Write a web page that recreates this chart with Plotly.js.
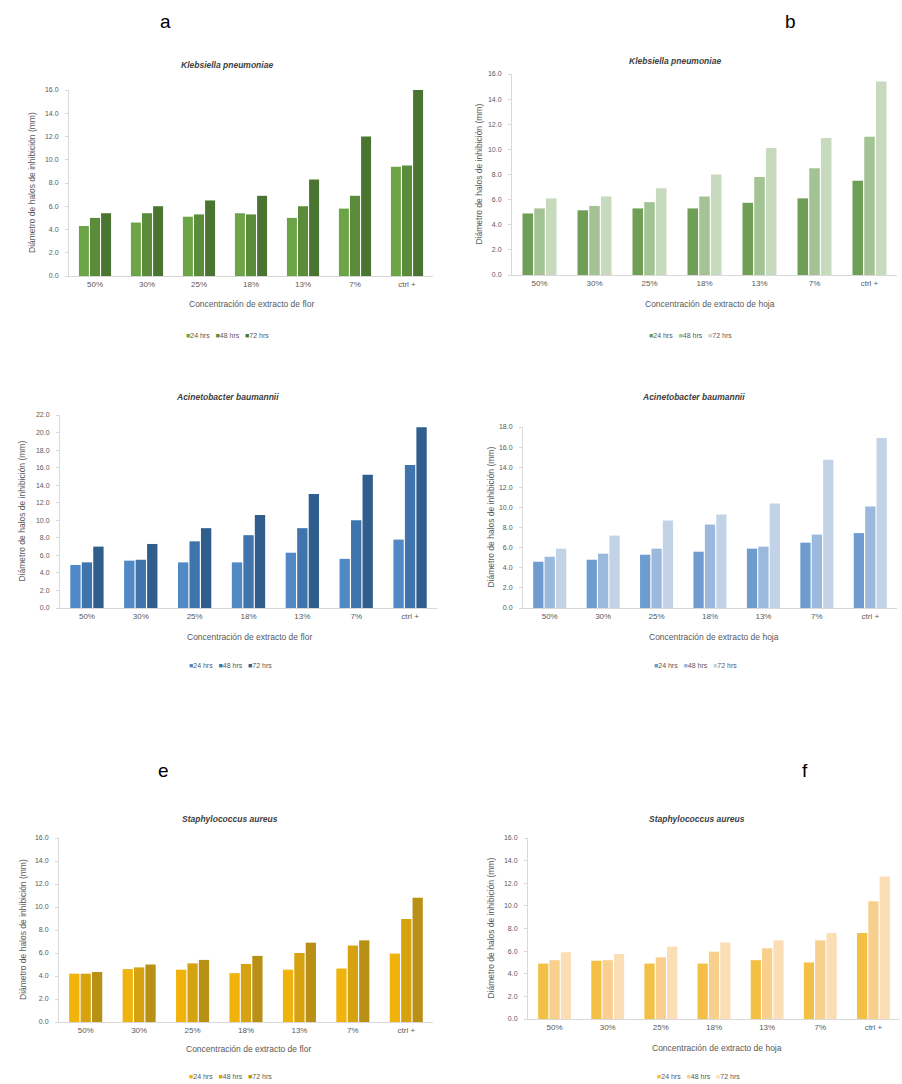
<!DOCTYPE html>
<html><head><meta charset="utf-8">
<script src="https://cdn.plot.ly/plotly-3.0.1.min.js"></script>
<style>html,body{margin:0;padding:0;background:#fff}#chart{width:902px;height:1084px}</style>
</head><body><div id="chart"></div>
<script>
// ---------- DATA ----------
const categories = ['50%', '30%', '25%', '18%', '13%', '7%', 'ctrl +'];
const seriesNames = ['24 hrs', '48 hrs', '72 hrs'];

// a) Klebsiella pneumoniae - extracto de flor
const kpFlor24 = [4.3, 4.6, 5.1, 5.4, 5.0, 5.8, 9.4];
const kpFlor48 = [5.0, 5.4, 5.3, 5.3, 6.0, 6.9, 9.5];
const kpFlor72 = [5.4, 6.0, 6.5, 6.9, 8.3, 12.0, 16.0];
// b) Klebsiella pneumoniae - extracto de hoja
const kpHoja24 = [4.9, 5.15, 5.3, 5.3, 5.75, 6.1, 7.5];
const kpHoja48 = [5.3, 5.5, 5.8, 6.25, 7.8, 8.5, 11.0];
const kpHoja72 = [6.1, 6.25, 6.9, 8.0, 10.1, 10.9, 15.4];
// c) Acinetobacter baumannii - extracto de flor
const abFlor24 = [4.9, 5.4, 5.2, 5.2, 6.3, 5.6, 7.8];
const abFlor48 = [5.2, 5.5, 7.6, 8.3, 9.1, 10.0, 16.3];
const abFlor72 = [7.0, 7.3, 9.1, 10.6, 13.0, 15.2, 20.6];
// d) Acinetobacter baumannii - extracto de hoja
const abHoja24 = [4.6, 4.8, 5.3, 5.6, 5.9, 6.5, 7.45];
const abHoja48 = [5.1, 5.4, 5.9, 8.3, 6.1, 7.3, 10.1];
const abHoja72 = [5.9, 7.2, 8.7, 9.3, 10.4, 14.75, 16.9];
// e) Staphylococcus aureus - extracto de flor
const saFlor24 = [4.2, 4.6, 4.55, 4.25, 4.55, 4.65, 5.95];
const saFlor48 = [4.2, 4.75, 5.1, 5.05, 6.0, 6.65, 8.95];
const saFlor72 = [4.35, 5.0, 5.4, 5.75, 6.9, 7.1, 10.8];
// f) Staphylococcus aureus - extracto de hoja
const saHoja24 = [4.9, 5.15, 4.9, 4.9, 5.2, 5.0, 7.6];
const saHoja48 = [5.2, 5.2, 5.45, 5.95, 6.25, 6.95, 10.4];
const saHoja72 = [5.9, 5.75, 6.4, 6.75, 6.95, 7.6, 12.6];

const panelLetters = ['a', 'b', 'e', 'f'];
const yTitleText = 'Diámetro de halos de inhibición (mm)';
const xTitleFlor = 'Concentración de extracto de flor';
const xTitleHoja = 'Concentración de extracto de hoja';

// ---------- LAYOUT CONFIG ----------
const W = 902, H = 1084;
const px = v => v / W;
const py = v => 1 - v / H;

const panels = [
  {title: 'Klebsiella pneumoniae', xt: xTitleFlor, series: [kpFlor24, kpFlor48, kpFlor72],
   colors: ['#6ea448', '#5a8c3a', '#4a7530'], ymax: 16, box: [69, 433, 90, 276],
   tx: 227, ty: 65, xtx: 252, xty: 304, lx: 228, ly: 335, ytx: 32},
  {title: 'Klebsiella pneumoniae', xt: xTitleHoja, series: [kpHoja24, kpHoja48, kpHoja72],
   colors: ['#6f9f57', '#a4c394', '#c8dabd'], ymax: 16, box: [512, 897, 74, 275],
   tx: 675, ty: 61, xtx: 710, xty: 304, lx: 690, ly: 335, ytx: 478},
  {title: 'Acinetobacter baumannii', xt: xTitleFlor, series: [abFlor24, abFlor48, abFlor72],
   colors: ['#5089c6', '#3f74ad', '#305e8c'], ymax: 22, box: [60, 437, 415, 608],
   tx: 228, ty: 397, xtx: 249, xty: 637, lx: 230, ly: 665, ytx: 22},
  {title: 'Acinetobacter baumannii', xt: xTitleHoja, series: [abHoja24, abHoja48, abHoja72],
   colors: ['#6e9ccf', '#9bb9dc', '#c2d3e8'], ymax: 18, box: [523, 897, 427, 608],
   tx: 693, ty: 397, xtx: 714, xty: 637, lx: 695, ly: 665, ytx: 490},
  {title: 'Staphylococcus aureus', xt: xTitleFlor, series: [saFlor24, saFlor48, saFlor72],
   colors: ['#efb30c', '#d6a20f', '#b99016'], ymax: 16, box: [59, 433, 838, 1022],
   tx: 230, ty: 819, xtx: 248, xty: 1049, lx: 230, ly: 1076, ytx: 23},
  {title: 'Staphylococcus aureus', xt: xTitleHoja, series: [saHoja24, saHoja48, saHoja72],
   colors: ['#f4bf45', '#f8cf8c', '#fbddb6'], ymax: 16, box: [528, 900, 838, 1019],
   tx: 697, ty: 819, xtx: 717, xty: 1048, lx: 698, ly: 1076, ytx: 490}
];
const letterPos = [[165, 22], [790, 22], [163, 770], [805, 770]];

const FONT = 'Liberation Sans, Arial, sans-serif';
const GREY = '#595959';

const traces = [];
const layout = {
  width: W, height: H, margin: {l: 0, r: 0, t: 0, b: 0},
  paper_bgcolor: '#ffffff', plot_bgcolor: '#ffffff',
  barmode: 'group', bargap: 0.36, bargroupgap: 0.1,
  showlegend: false, font: {family: FONT, color: GREY},
  annotations: []
};

panels.forEach((p, i) => {
  const n = i + 1;
  const xa = 'x' + (n === 1 ? '' : n), ya = 'y' + (n === 1 ? '' : n);
  const xk = 'xaxis' + (n === 1 ? '' : n), yk = 'yaxis' + (n === 1 ? '' : n);
  p.series.forEach((vals, s) => {
    traces.push({type: 'bar', x: categories, y: vals, name: seriesNames[s],
      xaxis: xa, yaxis: ya, marker: {color: p.colors[s], line: {width: 0}},
      hoverinfo: 'x+y+name'});
  });
  const [x0, x1, y0, y1] = p.box;
  layout[xk] = {domain: [px(x0), px(x1)], anchor: ya, type: 'category',
    showline: true, linecolor: '#d9d9d9', linewidth: 1, ticks: '', showgrid: false,
    zeroline: false, tickfont: {size: 8, color: GREY, family: FONT}, fixedrange: true};
  layout[yk] = {domain: [py(y1), py(y0)], anchor: xa, range: [0, p.ymax], dtick: 2,
    tickformat: '.1f', showline: true, linecolor: '#d9d9d9', linewidth: 1,
    ticks: 'outside', ticklen: 3, tickcolor: '#d9d9d9', showgrid: false, zeroline: false,
    ticklabelstandoff: 5, tickfont: {size: 7, color: GREY, family: FONT}, fixedrange: true};
  // chart title
  layout.annotations.push({text: '<b><i>' + p.title + '</i></b>', x: px(p.tx), y: py(p.ty),
    xref: 'paper', yref: 'paper', showarrow: false, xanchor: 'center', yanchor: 'middle',
    font: {size: 8.5, color: '#404040', family: FONT}});
  // x axis title
  layout.annotations.push({text: p.xt, x: px(p.xtx), y: py(p.xty),
    xref: 'paper', yref: 'paper', showarrow: false, xanchor: 'center', yanchor: 'middle',
    font: {size: 8.5, color: GREY, family: FONT}});
  // y axis title
  layout.annotations.push({text: yTitleText, x: px(p.ytx), y: py((y0 + y1) / 2),
    xref: 'paper', yref: 'paper', showarrow: false, xanchor: 'center', yanchor: 'middle',
    textangle: -90, font: {size: 8.5, color: GREY, family: FONT}});
  // legend (coloured squares + series names)
  const leg = seriesNames.map((nm, s) =>
    '<span style="color:' + p.colors[s] + '">■</span>' + nm).join('   ');
  layout.annotations.push({text: leg, x: px(p.lx), y: py(p.ly),
    xref: 'paper', yref: 'paper', showarrow: false, xanchor: 'center', yanchor: 'middle',
    font: {size: 7, color: GREY, family: FONT}});
});

panelLetters.forEach((l, i) => {
  layout.annotations.push({text: l, x: px(letterPos[i][0]), y: py(letterPos[i][1]),
    xref: 'paper', yref: 'paper', showarrow: false, xanchor: 'center', yanchor: 'middle',
    font: {size: 19, color: '#000000', family: FONT}});
});

Plotly.newPlot('chart', traces, layout, {displayModeBar: false, staticPlot: true});
</script>
</body></html>
